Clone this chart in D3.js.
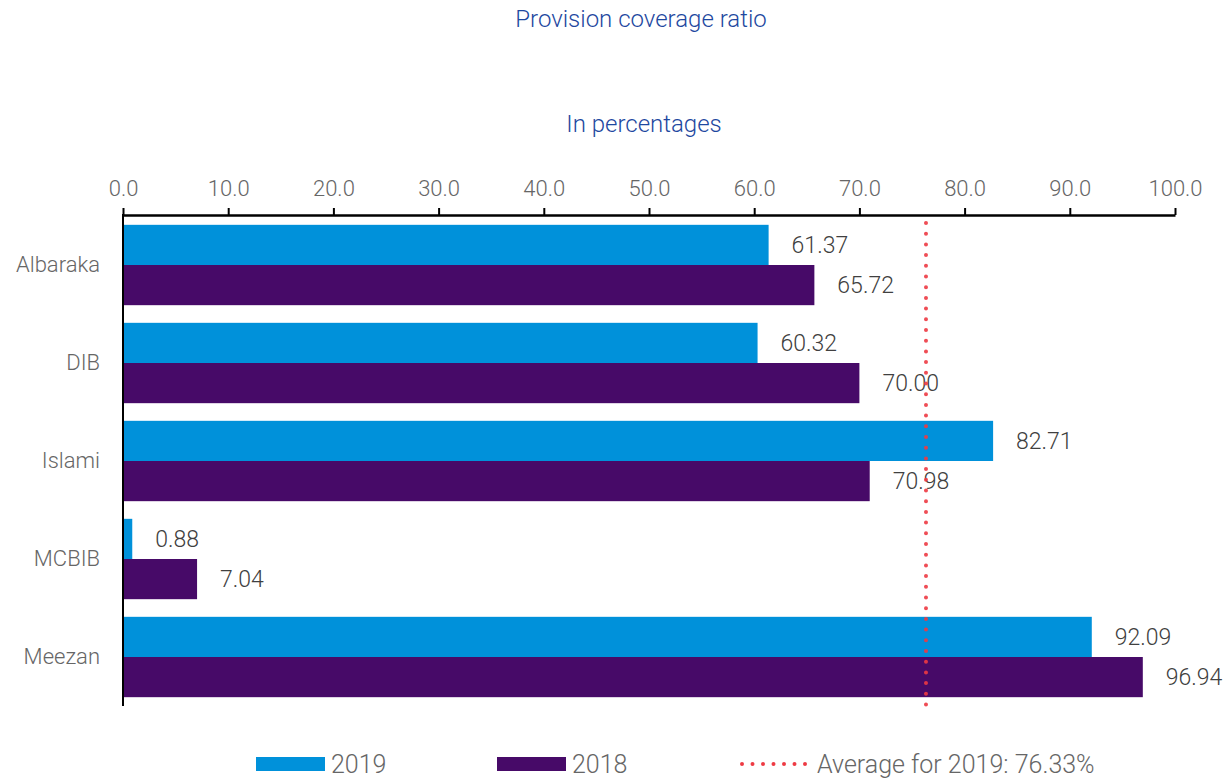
<!DOCTYPE html>
<html><head><meta charset="utf-8">
<script src="https://cdn.jsdelivr.net/npm/d3@7"></script>
<style>body{margin:0;background:#fff;} svg{display:block;} text{font-family:Roboto,"Liberation Sans",sans-serif;font-weight:300;}</style>
</head><body><svg id="c" width="1230" height="778"></svg>
<script>
const categories = ["Albaraka","DIB","Islami","MCBIB","Meezan"];
const values2019 = [61.37, 60.32, 82.71, 0.88, 92.09];
const values2018 = [65.72, 70.00, 70.98, 7.04, 96.94];
const average2019 = 76.33;
const xTicks = [0,10,20,30,40,50,60,70,80,90,100];
const seriesNames = ["2019","2018"];
const title = "Provision coverage ratio";
const subtitle = "In percentages";
const avgLabel = "Average for 2019: 76.33%";

const colors = {"2019":"#0091da","2018":"#470a68"};
const red = "#ee3a43";
const svg = d3.select("#c");

const x = d3.scaleLinear().domain([0,100]).range([123,1175]);
const y = d3.scaleBand().domain(categories).range([216,706]).paddingInner(0.18).paddingOuter(0.09);
const ys = d3.scaleBand().domain(seriesNames).range([0, y.bandwidth()]);

svg.append("text").attr("x",641).attr("y",27).attr("text-anchor","middle")
  .attr("font-size",24).attr("fill","#1e48a0").text(title);
svg.append("text").attr("x",644).attr("y",132).attr("text-anchor","middle")
  .attr("font-size",24).attr("fill","#1e48a0").text(subtitle);

const rows = categories.map((c,i)=>({c, v:{"2019":values2019[i],"2018":values2018[i]}}));

const g = svg.append("g");
rows.forEach(r=>{
  seriesNames.forEach(s=>{
    const v = r.v[s];
    const yy = y(r.c)+ys(s);
    g.append("rect").attr("x",x(0)).attr("y",yy).attr("width",x(v)-x(0)).attr("height",ys.bandwidth())
      .attr("fill",colors[s]);
    g.append("text").attr("x",x(v)+23).attr("y",yy+ys.bandwidth()/2).attr("dy","0.35em")
      .attr("font-size",23).attr("fill","#404040").text(v.toFixed(2));
  });
});

// x axis on top
const xAxis = svg.append("g").attr("transform","translate(0,215)")
  .call(d3.axisTop(x).tickValues(xTicks).tickFormat(d=>d.toFixed(1)).tickSize(7).tickSizeOuter(0).tickPadding(12));
xAxis.select(".domain").attr("stroke","#000").attr("stroke-width",2.5);
xAxis.selectAll(".tick line").attr("stroke","#000").attr("stroke-width",2);
xAxis.selectAll(".tick text").attr("font-size",22).attr("fill","#666").attr("font-family","Roboto");

// y axis
const yAxis = svg.append("g").attr("transform","translate(123,0)")
  .call(d3.axisLeft(y).tickSize(0).tickPadding(23));
yAxis.select(".domain").attr("d","M0,214V706").attr("stroke","#000").attr("stroke-width",2);
yAxis.selectAll(".tick text").attr("font-size",22).attr("fill","#666").attr("font-family","Roboto");

// average line
svg.append("line").attr("x1",x(average2019)).attr("x2",x(average2019)).attr("y1",223).attr("y2",708)
  .attr("stroke",red).attr("stroke-width",4).attr("stroke-linecap","round")
  .attr("stroke-dasharray","0,10.7").attr("opacity",0.9);

// legend
const lg = svg.append("g");
const legendItems = [
  {type:"rect", key:"2019", x:256, label:"2019"},
  {type:"rect", key:"2018", x:497, label:"2018"},
  {type:"line", x:742, label:avgLabel}
];
legendItems.forEach(it=>{
  if(it.type==="rect"){
    lg.append("rect").attr("x",it.x).attr("y",757).attr("width",69).attr("height",14).attr("fill",colors[it.key]);
  } else {
    lg.append("line").attr("x1",it.x).attr("x2",it.x+70).attr("y1",764).attr("y2",764)
      .attr("stroke",red).attr("stroke-width",4).attr("stroke-linecap","round").attr("stroke-dasharray","0,10.5");
  }
  lg.append("text").attr("x",it.x+75).attr("y",764).attr("dy","0.35em").attr("font-size",25).attr("fill","#666").text(it.label);
});
</script></body></html>
